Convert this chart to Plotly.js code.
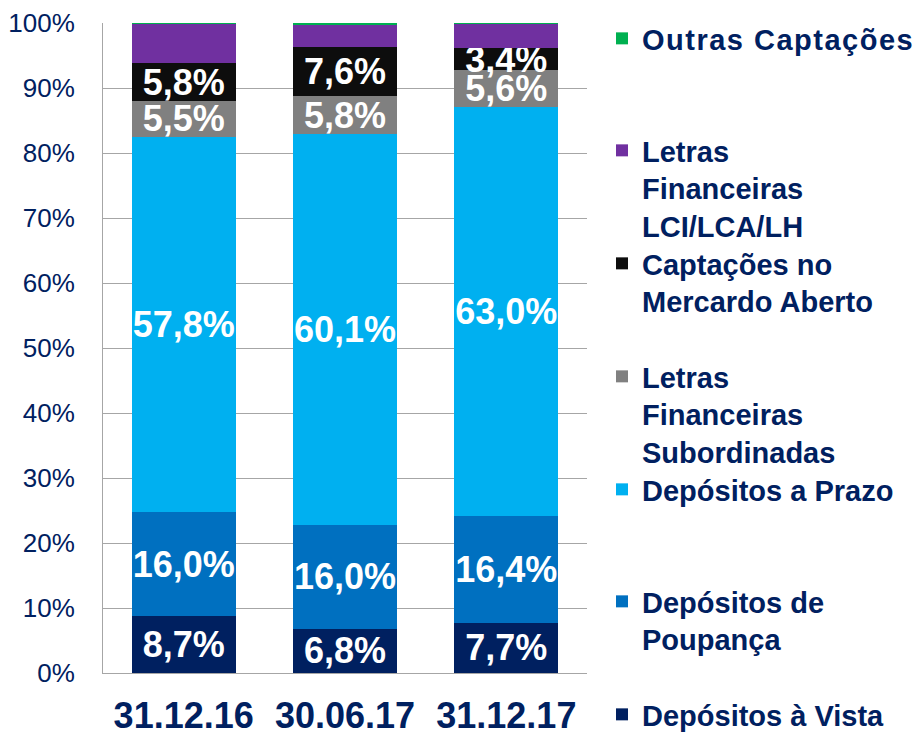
<!DOCTYPE html>
<html>
<head>
<meta charset="utf-8">
<script src="https://cdn.plot.ly/plotly-3.0.1.min.js"></script>
<style>
  html, body { margin: 0; padding: 0; background: #ffffff; }
  #chart { width: 921px; height: 733px; }
  .legendtext { letter-spacing: 1.5px; }
</style>
</head>
<body>
<div id="chart"></div>
<script>
// ---- Data (shares of funding, %) ----
const categories = ['31.12.16', '30.06.17', '31.12.17'];

const depositosVista      = [8.7, 6.8, 7.7];
const depositosPoupanca   = [16.0, 16.0, 16.4];
const depositosPrazo      = [57.8, 60.1, 63.0];
const lfSubordinadas      = [5.5, 5.8, 5.6];
const mercadoAberto       = [5.8, 7.6, 3.4];
const lfLciLcaLh          = [6.1, 3.4, 3.8];
const outrasCaptacoes     = [0.1, 0.3, 0.1];

const yTickValues = [0, 10, 20, 30, 40, 50, 60, 70, 80, 90, 100];

// ---- Styling ----
const NAVY = '#002060';
const FONT = 'Liberation Sans, Arial, sans-serif';

function fmt(arr) {
  return arr.map(v => v.toFixed(1).replace('.', ',') + '%');
}

function barTrace(name, values, color, legendId, showText) {
  return {
    type: 'bar',
    name: name,
    x: categories,
    y: values,
    marker: { color: color, line: { width: 0 } },
    text: showText ? fmt(values) : values.map(() => ''),
    textposition: showText ? 'inside' : 'none',
    insidetextanchor: 'middle',
    textangle: 0,
    constraintext: 'none',
    insidetextfont: { family: FONT, size: 36, color: '#ffffff', weight: 'bold' },
    hoverinfo: 'skip',
    legend: legendId,
    showlegend: true
  };
}

const traces = [
  barTrace('Depósitos à Vista', depositosVista, '#002060', 'legend7', true),
  barTrace('Depósitos de<br>Poupança', depositosPoupanca, '#0070C0', 'legend6', true),
  barTrace('Depósitos a Prazo', depositosPrazo, '#00B0F0', 'legend5', true),
  barTrace('Letras<br>Financeiras<br>Subordinadas', lfSubordinadas, '#808080', 'legend4', true),
  barTrace('Captações no<br>Mercardo Aberto', mercadoAberto, '#0D0D0D', 'legend3', true),
  barTrace('Letras<br>Financeiras<br>LCI/LCA/LH', lfLciLcaLh, '#7030A0', 'legend2', false),
  barTrace('Outras Captações', outrasCaptacoes, '#00B050', 'legend', false)
];

function legendAt(topPx) {
  return {
    xref: 'container', yref: 'container',
    x: 602 / 921, xanchor: 'left',
    y: 1 - topPx / 733, yanchor: 'top',
    bgcolor: 'rgba(0,0,0,0)',
    borderwidth: 0,
    valign: 'top',
    itemclick: false, itemdoubleclick: false,
    font: { family: FONT, size: 29, color: NAVY, weight: 'bold' }
  };
}

const layout = {
  width: 921,
  height: 733,
  margin: { l: 103, r: 334, t: 23, b: 60, autoexpand: false },
  paper_bgcolor: '#ffffff',
  plot_bgcolor: '#ffffff',
  barmode: 'stack',
  bargap: 0.354,
  showlegend: true,
  xaxis: {
    type: 'category',
    showgrid: false,
    showline: true,
    linecolor: '#A6A6A6',
    linewidth: 1,
    ticks: '',
    ticklabelstandoff: 11,
    tickfont: { family: FONT, size: 36, color: NAVY, weight: 'bold' },
    fixedrange: true
  },
  yaxis: {
    range: [0, 100],
    tickmode: 'array',
    tickvals: yTickValues,
    ticktext: yTickValues.map(v => v + '%'),
    showgrid: true,
    gridcolor: '#A6A6A6',
    gridwidth: 1,
    zeroline: false,
    showline: true,
    linecolor: '#A6A6A6',
    linewidth: 1,
    ticks: '',
    ticklabelstandoff: 22,
    tickfont: { family: FONT, size: 26, color: NAVY },
    fixedrange: true
  },
  legend:  legendAt(13),
  legend2: legendAt(125),
  legend3: legendAt(238),
  legend4: legendAt(351),
  legend5: legendAt(464),
  legend6: legendAt(576),
  legend7: legendAt(689)
};

Plotly.newPlot('chart', traces, layout, { staticPlot: true, displayModeBar: false });
</script>
</body>
</html>
